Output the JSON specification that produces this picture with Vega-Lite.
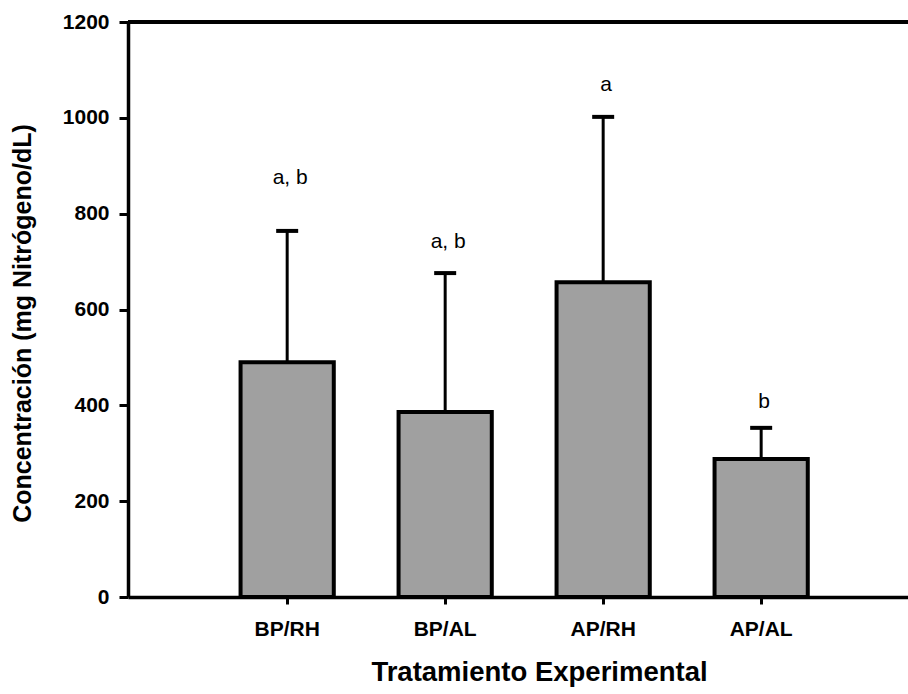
{
  "$schema": "https://vega.github.io/schema/vega-lite/v6.json",
  "width": 780,
  "height": 575,
  "autosize": {"type": "none"},
  "padding": {"left": 128, "top": 22, "right": 0, "bottom": 97},
  "background": "white",
  "config": {"view": {"stroke": null}, "font": "Liberation Sans"},
  "data": {
    "values": [
      {"trat": "BP/RH", "media": 490, "sup": 764, "letra": "a, b", "ly": 874},
      {"trat": "BP/AL", "media": 386, "sup": 676, "letra": "a, b", "ly": 741},
      {"trat": "AP/RH", "media": 657, "sup": 1002, "letra": "a", "ly": 1068},
      {"trat": "AP/AL", "media": 288, "sup": 353, "letra": "b", "ly": 407}
    ]
  },
  "layer": [
    {
      "mark": {"type": "bar", "fill": "#a0a0a0", "stroke": "black", "strokeWidth": 4},
      "encoding": {
        "x": {
          "field": "trat", "type": "nominal", "sort": null,
          "scale": {"type": "band", "paddingInner": 0.41, "paddingOuter": 0.6734, "align": 0.529},
          "axis": {
            "title": "Tratamiento Experimental",
            "labelAngle": 0,
            "labelFontSize": 21, "labelFontWeight": "bold", "labelColor": "black",
            "labelPadding": 14,
            "tickSize": 7, "tickWidth": 3, "tickColor": "black",
            "domainWidth": 3.5, "domainColor": "black",
            "titleFontSize": 27.5, "titleFontWeight": "bold", "titleColor": "black",
            "titleX": 411, "titleY": 83, "titleBaseline": "alphabetic", "titleAlign": "center"
          }
        },
        "y": {
          "field": "media", "type": "quantitative",
          "scale": {"domain": [0, 1200]},
          "axis": {
            "title": "Concentración (mg Nitrógeno/dL)",
            "values": [0, 200, 400, 600, 800, 1000, 1200],
            "format": "d",
            "grid": false,
            "labelFontSize": 21, "labelFontWeight": "bold", "labelColor": "black",
            "labelPadding": 10,
            "tickSize": 9, "tickWidth": 3, "tickColor": "black",
            "domainWidth": 3.5, "domainColor": "black",
            "titleFontSize": 25, "titleFontWeight": "bold", "titleColor": "black",
            "titleX": -106, "titleY": 301, "titleBaseline": "middle", "titleAlign": "center", "titleAngle": -90
          }
        }
      }
    },
    {
      "mark": {"type": "rule", "strokeWidth": 3, "color": "black"},
      "encoding": {
        "x": {"field": "trat", "type": "nominal", "sort": null},
        "y": {"field": "media", "type": "quantitative"},
        "y2": {"field": "sup"}
      }
    },
    {
      "mark": {"type": "tick", "size": 22, "thickness": 4, "color": "black", "opacity": 1},
      "encoding": {
        "x": {"field": "trat", "type": "nominal", "sort": null},
        "y": {"field": "sup", "type": "quantitative"}
      }
    },
    {
      "mark": {"type": "text", "fontSize": 21, "color": "black", "baseline": "middle", "dx": 3},
      "encoding": {
        "x": {"field": "trat", "type": "nominal", "sort": null},
        "y": {"field": "ly", "type": "quantitative"},
        "text": {"field": "letra"}
      }
    },
    {
      "mark": {"type": "rule", "strokeWidth": 3.5, "color": "black"},
      "encoding": {"y": {"datum": 1200}}
    }
  ]
}
